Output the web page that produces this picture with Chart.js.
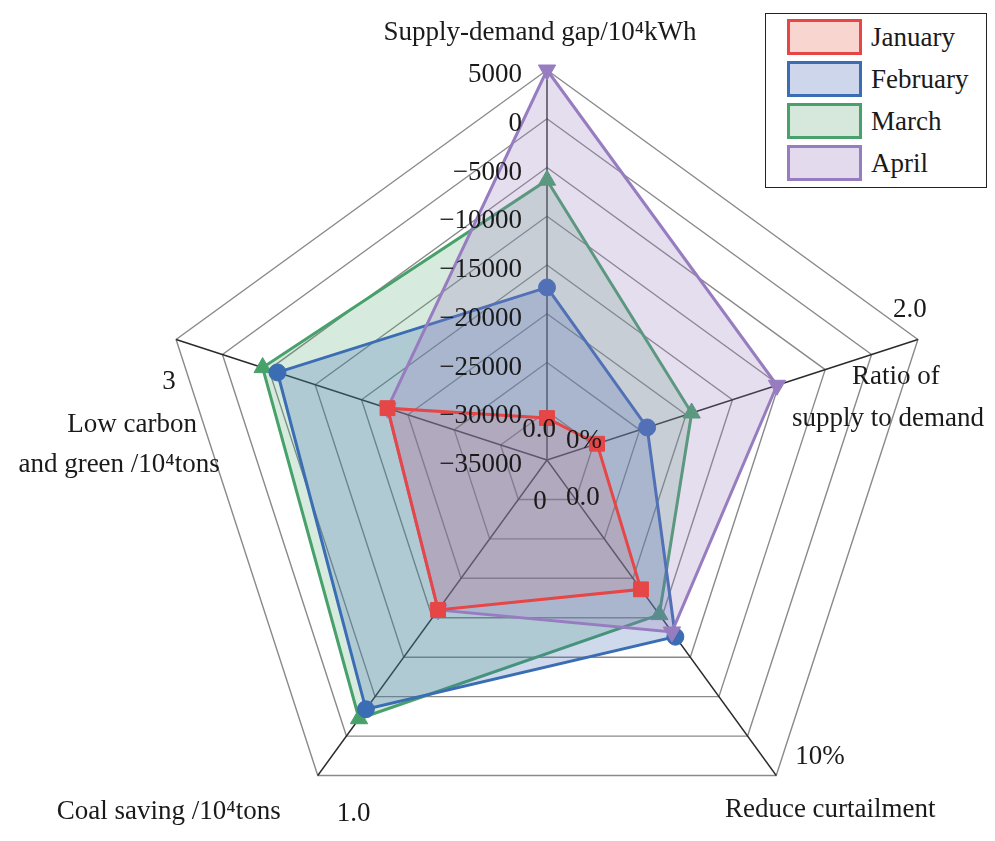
<!DOCTYPE html>
<html>
<head>
<meta charset="utf-8">
<script src="https://cdn.jsdelivr.net/npm/chart.js@4.4.1/dist/chart.umd.min.js"></script>
<style>
  html, body { margin: 0; padding: 0; background: #fff; overflow: hidden; }
  #wrap { position: relative; width: 995px; height: 841px; overflow: hidden; }
  #area { position: absolute; left: 0; top: 0; width: 995px; height: 850px; }
  #legend {
    position: absolute; left: 765px; top: 13px; width: 222px; height: 175px;
    border: 1.5px solid #222; background: #fff; box-sizing: border-box;
    font-family: 'Liberation Serif', 'Times New Roman', serif; font-size: 27px; color: #1a1a1a;
  }
  .item { position: absolute; left: 21px; height: 36px; display: flex; align-items: center; }
  .sw { width: 75px; height: 36px; box-sizing: border-box; border: 3px solid; margin-right: 9px; }
</style>
</head>
<body>
<div id="wrap">
  <div id="area"><canvas id="radar"></canvas></div>
  <div id="legend"></div>
</div>
<script>
// eixos e escalas
const axisTitles = [
    ['Supply-demand gap/10⁴kWh'],
    ['Ratio of', 'supply to demand'],
    ['Reduce curtailment'],
    ['Coal saving /10⁴tons'],
    ['Low carbon', 'and green /10⁴tons']
];
const axisMin = [-35000, 0, 0, 0, 0];
const axisMax = [5000, 2.0, 10, 1.0, 3];
const gapTicks = ['−35000', '−30000', '−25000', '−20000', '−15000', '−10000', '−5000', '0', '5000'];
const ratioTicks = ['0.0', '2.0'];
const curtailTicks = ['0%', '10%'];
const coalTicks = ['0.0', '1.0'];
const carbonTicks = ['0', '3'];

// séries
const seriesNames = ['January', 'February', 'March', 'April'];
const january = [-30700, 0.27, 4.1, 0.475, 1.29];
const february = [-17300, 0.54, 5.6, 0.79, 2.18];
const march = [-6300, 0.78, 4.9, 0.82, 2.30];
const april = [5000, 1.24, 5.45, 0.475, 1.29];

const LEVELS = 8;
const FONT = "27px 'Liberation Serif', 'Times New Roman', serif";
const cores = ['#e64646', '#3a6db3', '#48a16a', '#977dc0'];
const preenchimento = ['rgba(230,70,70,0.12)', 'rgba(58,109,179,0.25)', 'rgba(72,161,106,0.22)', 'rgba(151,125,192,0.25)'];
const swatchFill = ['#f9d5d0', '#ced6ec', '#d6e8dc', '#e3daee'];

// converte valor bruto para nível 0..8 do eixo
function normaliza(valores) {
    return valores.map((v, i) => (v - axisMin[i]) / (axisMax[i] - axisMin[i]) * LEVELS);
}

const tickSets = [gapTicks, ratioTicks, curtailTicks, coalTicks, carbonTicks];
const tickPlace = [
    { align: 'right', dx: -25, dy: 5 },
    { align: 'center', dx: -8, dy: -30 },
    { align: 'left', dx: 19, dy: -19 },
    { align: 'left', dx: 19, dy: 38 },
    { align: 'center', dx: -7, dy: 42 }
];
const titlePlace = [
    [[-7, -37]],
    [[-22, 37], [-30, 79]],
    [[54, 34]],
    [[-149, 36]],
    [[-44, 85], [-57, 125]]
];

const rotulosPlugin = {
    id: 'rotulos',
    afterDraw(chart) {
        const ctx = chart.ctx;
        const r = chart.scales.r;
        ctx.save();
        ctx.font = FONT;
        ctx.fillStyle = '#1a1a1a';
        ctx.textBaseline = 'middle';
        tickSets.forEach((ticks, i) => {
            const pl = tickPlace[i];
            ctx.textAlign = pl.align;
            ticks.forEach((txt, k) => {
                const p = r.getPointPositionForValue(i, k * LEVELS / (ticks.length - 1));
                ctx.fillText(txt, p.x + pl.dx, p.y + pl.dy);
            });
        });
        ctx.textAlign = 'center';
        axisTitles.forEach((linhas, i) => {
            const p = r.getPointPositionForValue(i, LEVELS);
            linhas.forEach((txt, k) => {
                const off = titlePlace[i][k];
                ctx.fillText(txt, p.x + off[0], p.y + off[1]);
            });
        });
        ctx.restore();
    }
};

const ctx = document.getElementById('radar').getContext('2d');
const allData = [january, february, march, april];
const estilos = ['rect', 'circle', 'triangle', 'triangle'];
const raios = [10.5, 8.5, 10, 10];
const rotacao = [0, 0, 0, 180];
const ordem = [0, 2, 3, 1];

new Chart(ctx, {
    type: 'radar',
    data: {
        labels: axisTitles.map(t => t.join(' ')),
        datasets: allData.map((d, i) => ({
            label: seriesNames[i],
            data: normaliza(d),
            borderColor: cores[i],
            backgroundColor: preenchimento[i],
            borderWidth: 3,
            fill: true,
            pointStyle: estilos[i],
            pointRadius: raios[i],
            pointRotation: rotacao[i],
            pointBackgroundColor: cores[i],
            pointBorderColor: cores[i],
            pointBorderWidth: 1,
            order: ordem[i],
            clip: false
        }))
    },
    options: {
        responsive: true,
        maintainAspectRatio: false,
        animation: false,
        layout: { padding: { top: 70, bottom: 0, left: 157, right: 58 } },
        plugins: { legend: { display: false }, tooltip: { enabled: false } },
        elements: { line: { tension: 0 } },
        scales: {
            r: {
                min: 0,
                max: LEVELS,
                ticks: { display: false, stepSize: 1 },
                grid: { color: '#8a8a8a', lineWidth: 1.4 },
                angleLines: { color: '#2a2a2a', lineWidth: 1.4 },
                pointLabels: { display: false }
            }
        }
    },
    plugins: [rotulosPlugin]
});

// legenda
const leg = document.getElementById('legend');
seriesNames.forEach((nome, i) => {
    leg.innerHTML += `<div class="item" style="top:${5 + i * 42}px">
        <div class="sw" style="border-color:${cores[i]};background:${swatchFill[i]}"></div>
        <span>${nome}</span></div>`;
});
</script>
</body>
</html>
